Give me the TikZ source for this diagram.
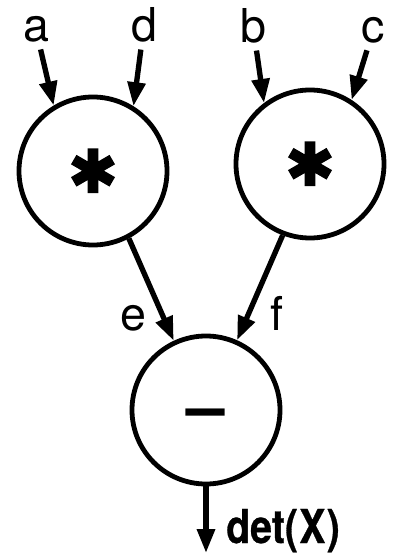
\documentclass[tikz,border=0pt]{standalone}
\usepackage{fontspec}
\setmainfont{TeX Gyre Heros}
\newfontfamily\symfont[FakeBold=3]{DejaVu Sans}
\newfontfamily\detfont[FakeStretch=0.84,FakeBold=0.6]{TeX Gyre Heros Bold}
\usetikzlibrary{arrows.meta}
\begin{document}
\begin{tikzpicture}[x=0.75pt,y=-0.75pt,
  op/.style={circle,draw,line width=3.6pt,minimum size=111pt,inner sep=0pt,
             text height=0pt,text depth=0pt},
  lbl/.style={inner sep=0pt,font=\fontsize{35}{40}\selectfont},
  arr/.style={line width=4pt,-{Triangle[length=18pt,width=13pt]}},
  star/.style={font=\symfont\fontsize{44}{48}\selectfont},
  minus/.style={font=\bfseries\fontsize{52}{56}\selectfont}]
\useasboundingbox (0,0) rectangle (394,555);
% operator nodes
\node[op,star] (m1) at (93,171) {\raisebox{-0.36em}{✱}};
\node[op,star] (m2) at (310,164) {\raisebox{-0.36em}{✱}};
\node[op,minus] (s) at (206,410) {\raisebox{-0.30em}{–}};
% labels
\node[lbl,anchor=base] (a) at (36,42) {a};
\node[lbl,anchor=base] (d) at (144,42) {d};
\node[lbl,anchor=base] (b) at (253,43) {b};
\node[lbl,anchor=base] (c) at (373,43) {c};
\node[lbl,anchor=base] (e) at (133,330) {e};
\node[lbl,anchor=base] (f) at (277,330) {f};
\node[anchor=base west,inner sep=0pt,font=\detfont\fontsize{35}{40}\selectfont] (det) at (226,543) {det(\kern1pt X\kern1pt)};
\coordinate (out) at (206,553);
% connectors
\draw[arr,shorten <=5pt] (a) -- (m1.121);
\draw[arr,shorten <=5pt] (d) -- (m1.58);
\draw[arr,shorten <=5pt] (b) -- (m2.127);
\draw[arr,shorten <=5pt] (c) -- (m2.57);
\draw[arr] (m1.-62) -- (s.115);
\draw[arr] (m2.-111) -- (s.66);
\draw[arr] (s.south) -- (out);
\end{tikzpicture}
\end{document}
